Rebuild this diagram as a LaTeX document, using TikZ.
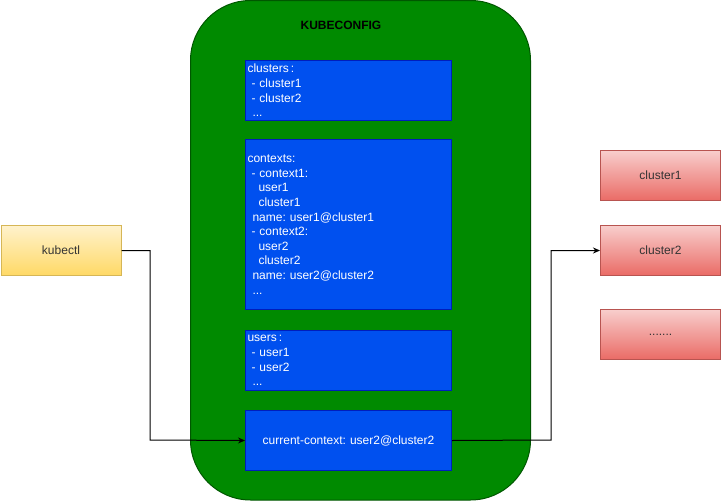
\documentclass[tikz,border=0pt]{standalone}
\usepackage{fontspec}
\setmainfont{Liberation Sans}
\usetikzlibrary{arrows.meta,calc}
\definecolor{gfill}{HTML}{008A00}
\definecolor{gline}{HTML}{005700}
\definecolor{bfill}{HTML}{0050EF}
\definecolor{bline}{HTML}{001DBC}
\definecolor{ytop}{HTML}{FFF2CC}
\definecolor{ybot}{HTML}{FFD966}
\definecolor{yline}{HTML}{D6B656}
\definecolor{rtop}{HTML}{F8CECC}
\definecolor{rbot}{HTML}{EA6B66}
\definecolor{rline}{HTML}{B85450}
\frenchspacing
\tikzset{
  x=1pt,y=-1pt,
  bluebox/.style={draw=bline,fill=bfill,line width=1pt,text=white,align=left,
    text width=202pt,minimum width=206pt,inner xsep=2pt,inner ysep=0pt,anchor=north west,
    font=\fontsize{12}{14.6}\selectfont\frenchspacing},
  yellowbox/.style={draw=yline,line width=1pt,top color=ytop,bottom color=ybot,
    minimum width=120pt,minimum height=50pt,inner sep=0pt,anchor=north west,
    font=\fontsize{12}{14}\selectfont,text=black!80},
  redbox/.style={draw=rline,line width=1pt,top color=rtop,bottom color=rbot,
    minimum width=120pt,minimum height=50pt,inner sep=0pt,anchor=north west,
    font=\fontsize{12}{14}\selectfont,text=black!80},
  conn/.style={draw=black,line width=1pt,-{Stealth[length=7pt,width=6pt]}}
}
\begin{document}
\begin{tikzpicture}
\useasboundingbox (0,0) rectangle (721,501);
\draw[fill=gfill,draw=gline,line width=1pt,rounded corners=60pt] (190.5,0.5) rectangle (530.5,500);
\node[font=\bfseries\fontsize{12}{14}\selectfont,text=black] (title) at (341,25) {KUBECONFIG};
\node[bluebox,minimum height=60pt] (clusters) at (245,60) {clusters\,:\\\hspace*{4pt}- cluster1\\\hspace*{4pt}- cluster2\\\hspace*{5pt}...};
\node[bluebox,minimum height=170pt] (contexts) at (245,139) {contexts:\\\hspace*{4pt}- context1:\\\hspace*{11pt}user1\\\hspace*{11pt}cluster1\\\hspace*{5pt}name: user1@cluster1\\\hspace*{4pt}- context2:\\\hspace*{11pt}user2\\\hspace*{11pt}cluster2\\\hspace*{5pt}name: user2@cluster2\\\hspace*{5pt}...};
\node[bluebox,minimum height=60pt] (users) at (245,330) {users\,:\\\hspace*{4pt}- user1\\\hspace*{4pt}- user2\\\hspace*{5pt}...};
\node[bluebox,minimum height=60pt,align=center] (current) at (245,410) {current-context: user2@cluster2};
\node[yellowbox] (kubectl) at (0.5,225) {kubectl};
\node[redbox] (c1) at (600,150) {cluster1};
\node[redbox] (c2) at (600,225) {cluster2};
\node[redbox] (c3) at (600,309) {.......};
\draw[conn] (kubectl.east) -| (150,440) -- (current.west);
\draw[conn] (current.east) -- (551,440) |- (c2.west);
\end{tikzpicture}
\end{document}
